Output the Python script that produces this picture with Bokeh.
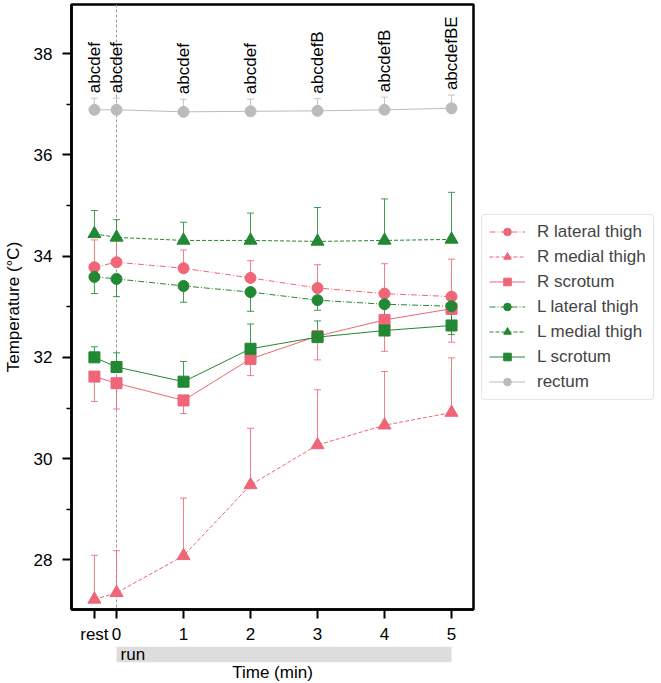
import numpy as np
from bokeh.plotting import figure
from bokeh.models import (ColumnDataSource, Whisker, TeeHead, Span, Legend, LegendItem,
                          FixedTicker, Range1d)
from bokeh.layouts import column
from bokeh.core.properties import value
from bokeh.embed import file_html
from bokeh.resources import INLINE

# ---------------- data ----------------
times = [-0.33, 0, 1, 2, 3, 4, 5]
time_labels = ["rest", "0", "1", "2", "3", "4", "5"]

r_lat = [33.78, 33.88, 33.76, 33.57, 33.37, 33.26, 33.20]
r_lat_sd = [0.54, 0.50, 0.36, 0.34, 0.46, 0.59, 0.74]
r_med = [27.22, 27.35, 28.08, 29.48, 30.27, 30.66, 30.91]
r_med_sd = [0.87, 0.83, 1.14, 1.12, 1.09, 1.06, 1.08]
r_scr = [31.62, 31.49, 31.15, 31.97, 32.42, 32.74, 32.96]
r_scr_sd = [0.49, 0.51, 0.26, 0.33, 0.47, 0.62, 0.66]
l_lat = [33.59, 33.55, 33.41, 33.29, 33.13, 33.05, 33.01]
l_lat_sd = [0.33, 0.35, 0.32, 0.38, 0.20, 0.30, 0.56]
l_med = [34.44, 34.37, 34.31, 34.31, 34.29, 34.31, 34.33]
l_med_sd = [0.46, 0.35, 0.36, 0.54, 0.67, 0.82, 0.93]
l_scr = [32.00, 31.81, 31.52, 32.17, 32.40, 32.53, 32.63]
l_scr_sd = [0.21, 0.28, 0.40, 0.49, 0.32, 0.22, 0.22]
rectum = [36.89, 36.89, 36.85, 36.86, 36.87, 36.89, 36.92]
rectum_sd = [0.23, 0.23, 0.25, 0.24, 0.24, 0.25, 0.26]

annotations = ["abcdef", "abcdef", "abcdef", "abcdef", "abcdefB", "abcdefB", "abcdefBE"]

phase = ["run"]
phase_start = [0]
phase_end = [5]

y_ticks = [28, 30, 32, 34, 36, 38]
y_minor = [27, 29, 31, 33, 35, 37]

# ---------------- style ----------------
FONT = "Liberation Sans"
FS = "17px"
PINK = "#EE6677"
GREEN = "#228833"
GRAY = "#BBBBBB"

series = [
    ("R lateral thigh", r_lat, r_lat_sd, "up", PINK, "circle", "6 2 1 2", 11),
    ("R medial thigh", r_med, r_med_sd, "up", PINK, "triangle", "4 2", 13),
    ("R scrotum", r_scr, r_scr_sd, "down", PINK, "square", "solid", 11),
    ("L lateral thigh", l_lat, l_lat_sd, "down", GREEN, "circle", "6 2 1 2", 11),
    ("L medial thigh", l_med, l_med_sd, "up", GREEN, "triangle", "4 2", 13),
    ("L scrotum", l_scr, l_scr_sd, "up", GREEN, "square", "solid", 11),
    ("rectum", rectum, rectum_sd, "up", GRAY, "circle", "solid", 11),
]

p = figure(frame_width=402, frame_height=605, output_backend="svg", toolbar_location=None,
           x_range=Range1d(-0.672, 5.328), y_range=Range1d(27.02, 38.97),
           min_border_left=71, min_border_right=0, min_border_top=4, min_border_bottom=30)
p.grid.visible = False
p.outline_line_color = "black"
p.outline_line_width = 2.5
p.background_fill_color = "white"
p.border_fill_color = "white"

p.add_layout(Span(location=0, dimension="height", line_color="#999999",
                  line_dash="3 2", line_width=1, level="underlay"))

items = []
for name, mean, sd, direction, color, marker, dash, size in series:
    mean = np.array(mean)
    sd = np.array(sd)
    if direction == "up":
        lo, hi = mean, mean + sd
    else:
        lo, hi = mean - sd, mean
    src = ColumnDataSource(dict(x=times, y=mean, lo=lo, hi=hi))
    w = Whisker(base="x", lower="lo", upper="hi", source=src,
                line_color=color, line_width=1, line_alpha=0.85, level="underlay")
    if direction == "up":
        w.upper_head = TeeHead(size=7, line_color=color, line_width=1, line_alpha=0.85)
        w.lower_head = None
    else:
        w.lower_head = TeeHead(size=7, line_color=color, line_width=1, line_alpha=0.85)
        w.upper_head = None
    p.add_layout(w)
    lr = p.line("x", "y", source=src, line_color=color, line_width=1, line_dash=dash)
    sr = p.scatter("x", "y", source=src, marker=marker, size=size,
                   fill_color=color, line_color=color, line_width=1)
    items.append(LegendItem(label=name, renderers=[lr, sr]))

rect_hi = list(np.array(rectum) + np.array(rectum_sd))
p.text(x=times, y=rect_hi, text=annotations, angle=np.pi / 2,
       text_align="left", text_baseline="middle", y_offset=-5,
       text_font=value(FONT), text_font_size=FS, text_color="black")

legend = Legend(items=items, location="center_left",
                label_text_font=FONT, label_text_font_size=FS,
                glyph_width=36, glyph_height=19, label_height=19, spacing=5,
                padding=7, label_standoff=12, margin=8,
                border_line_color="#cccccc", border_line_width=1.5,
                border_radius=4, background_fill_alpha=1.0)
p.add_layout(legend, "right")

# axes
p.yaxis.ticker = FixedTicker(ticks=y_ticks, minor_ticks=y_minor)
p.xaxis.ticker = FixedTicker(ticks=times, minor_ticks=[])
p.xaxis.major_label_overrides = {t: l for t, l in zip(times, time_labels)}
for ax in (p.xaxis, p.yaxis):
    ax.axis_line_width = 2.5
    ax.axis_line_color = "black"
    ax.major_tick_out = 9
    ax.major_tick_in = 0
    ax.minor_tick_out = 5
    ax.minor_tick_in = 0
    ax.major_tick_line_width = 2
    ax.minor_tick_line_width = 1.5
    ax.major_tick_line_color = "black"
    ax.minor_tick_line_color = "black"
    ax.major_label_text_font = FONT
    ax.major_label_text_font_size = FS
    ax.major_label_text_color = "black"
    ax.axis_label_text_font = FONT
    ax.axis_label_text_font_size = FS
    ax.axis_label_text_font_style = "normal"
    ax.axis_label_text_color = "black"
p.xaxis.major_label_standoff = 6
p.yaxis.major_label_standoff = 10
p.yaxis.axis_label = "Temperature (°C)"
p.yaxis.axis_label_standoff = 8

# ---------------- run band + x label ----------------
p2 = figure(frame_width=402, frame_height=16, output_backend="svg", toolbar_location=None,
            x_range=p.x_range, y_range=Range1d(0, 1), y_axis_location=None,
            min_border_left=71, min_border_right=188, min_border_top=0, min_border_bottom=21)
p2.grid.visible = False
p2.outline_line_color = None
p2.quad(left=phase_start, right=phase_end, bottom=0, top=1,
        fill_color="#dddddd", line_color=None)
p2.text(x=phase_start, y=[0.5], text=phase, x_offset=4, text_baseline="middle",
        text_font=value(FONT), text_font_size=FS, text_color="black")
p2.xaxis.ticker = FixedTicker(ticks=[])
p2.xaxis.axis_line_color = None
p2.xaxis.major_tick_line_color = None
p2.xaxis.minor_tick_line_color = None
p2.xaxis.axis_label = "Time (min)"
p2.xaxis.axis_label_standoff = 0
p2.xaxis.axis_label_text_font = FONT
p2.xaxis.axis_label_text_font_size = FS
p2.xaxis.axis_label_text_font_style = "normal"
p2.xaxis.axis_label_text_color = "black"

layout = column(p, p2, spacing=0)
open("out.html", "w").write(file_html(layout, INLINE))
